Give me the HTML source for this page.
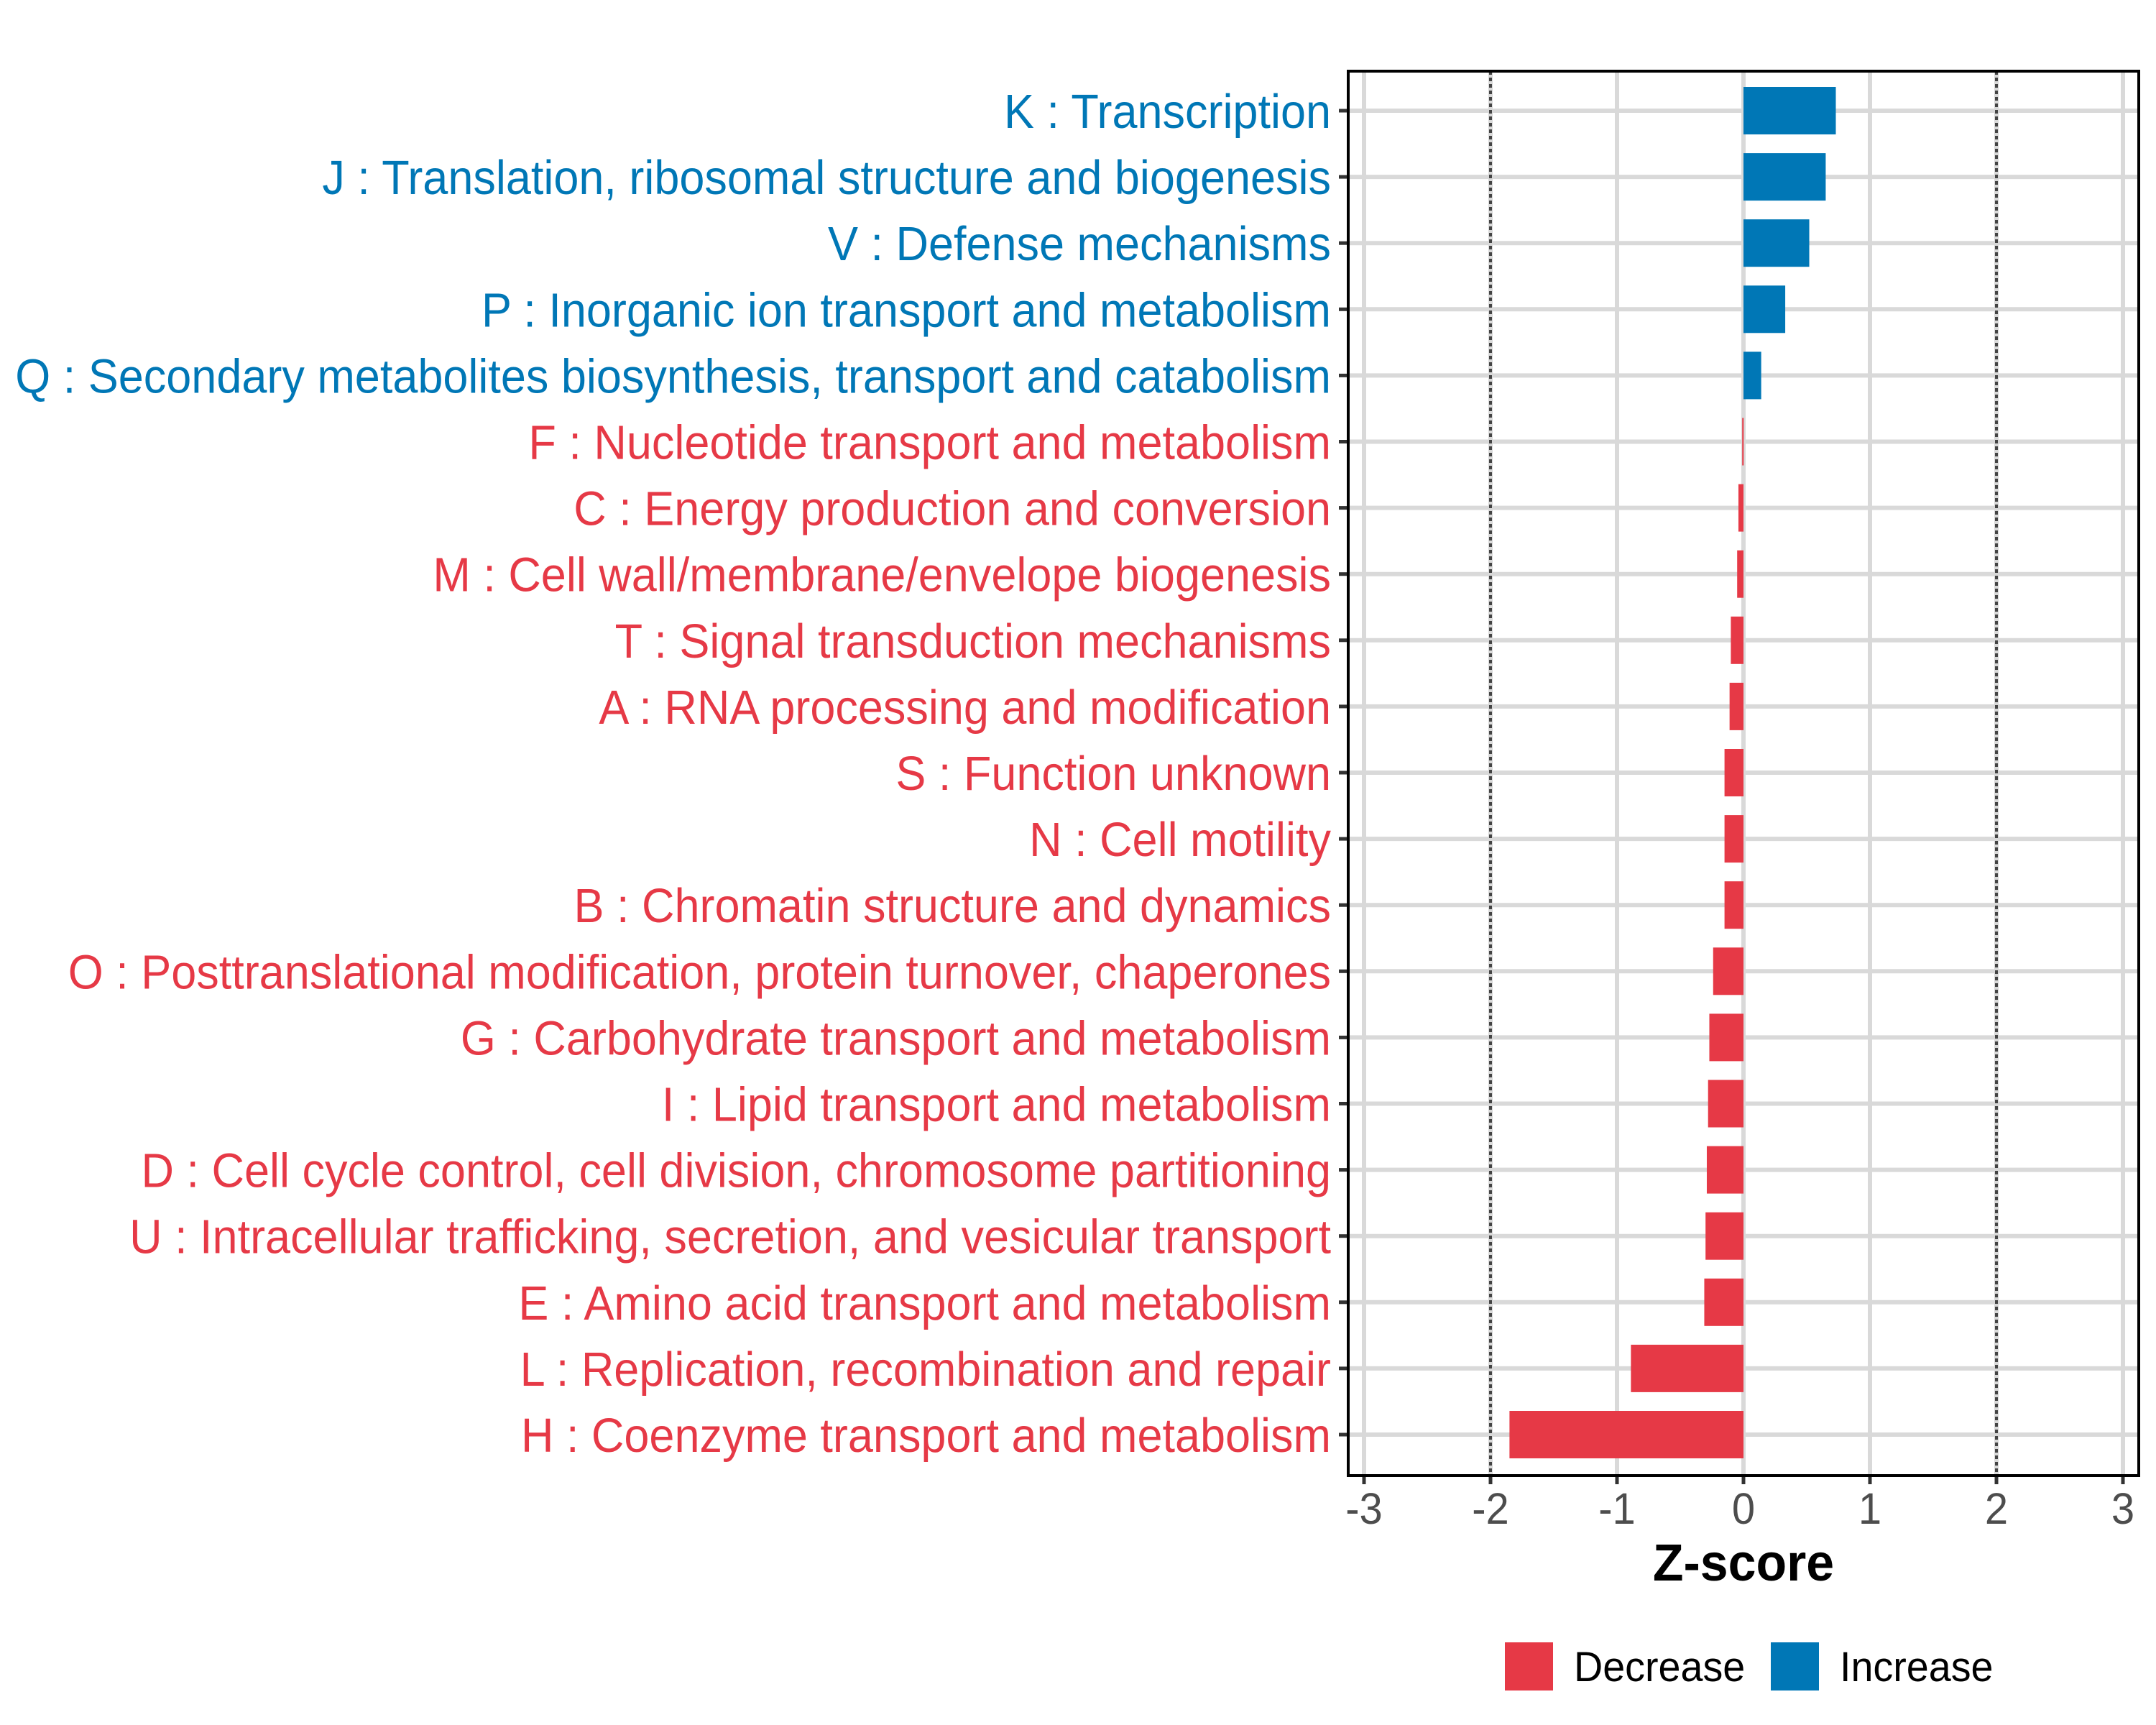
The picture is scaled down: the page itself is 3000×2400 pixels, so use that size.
<!DOCTYPE html>
<html><head><meta charset="utf-8"><style>
html,body{margin:0;padding:0;background:#fff}
svg{display:block}
text{font-family:"Liberation Sans",Arial,sans-serif}
</style></head><body>
<svg id="chart" width="3000" height="2400" viewBox="0 0 3000 2400" xmlns="http://www.w3.org/2000/svg">
<rect width="3000" height="2400" fill="#fff"/>
<g id="grid"></g>
<g id="bars"></g>
<g id="labels"></g>
<g id="xticks"></g>
<rect x="1876" y="99" width="1100" height="1954" fill="none" stroke="#000" stroke-width="4"/>
<text x="2426" y="2199" font-size="72" font-weight="bold" text-anchor="middle" transform="translate(2426,0) scale(0.97,1) translate(-2426,0)">Z-score</text>
<g>
<rect x="2094" y="2285" width="67" height="67" fill="#E63946"/>
<text x="2190" y="2339" font-size="58" transform="translate(2190,0) scale(0.96,1) translate(-2190,0)">Decrease</text>
<rect x="2464" y="2285" width="67" height="67" fill="#0077B6"/>
<text x="2560" y="2339" font-size="58" transform="translate(2560,0) scale(0.96,1) translate(-2560,0)">Increase</text>
</g>
</svg>
<script>
const categories = ["K : Transcription","J : Translation, ribosomal structure and biogenesis","V : Defense mechanisms","P : Inorganic ion transport and metabolism","Q : Secondary metabolites biosynthesis, transport and catabolism","F : Nucleotide transport and metabolism","C : Energy production and conversion","M : Cell wall/membrane/envelope biogenesis","T : Signal transduction mechanisms","A : RNA processing and modification","S : Function unknown","N : Cell motility","B : Chromatin structure and dynamics","O : Posttranslational modification, protein turnover, chaperones","G : Carbohydrate transport and metabolism","I : Lipid transport and metabolism","D : Cell cycle control, cell division, chromosome partitioning","U : Intracellular trafficking, secretion, and vesicular transport","E : Amino acid transport and metabolism","L : Replication, recombination and repair","H : Coenzyme transport and metabolism"];
const zscores = [0.73,0.65,0.52,0.33,0.14,-0.01,-0.04,-0.05,-0.10,-0.11,-0.15,-0.15,-0.15,-0.24,-0.27,-0.28,-0.29,-0.30,-0.31,-0.89,-1.85];
const xTicks = [-3,-2,-1,0,1,2,3];
const xTickLabels = ["-3","-2","-1","0","1","2","3"];
const thresholds = [-2,2];

const NS="http://www.w3.org/2000/svg";
function xs(v){return 2426+v*176;}
function ys(i){return 154+i*92.1;}
function mk(tag,attrs,parent){const e=document.createElementNS(NS,tag);for(const k in attrs)e.setAttribute(k,attrs[k]);parent.appendChild(e);return e;}
const grid=document.getElementById('grid'),bars=document.getElementById('bars'),labels=document.getElementById('labels'),xt=document.getElementById('xticks');
const RED="#E63946",BLUE="#0077B6";
xTicks.forEach((t,i)=>{
  const g=mk('line',{x1:xs(t),x2:xs(t),y1:99,y2:2053,stroke:"#d9d9d9","stroke-width":6},grid);
  
  
  const tk=mk('line',{x1:xs(t),x2:xs(t),y1:2053,y2:2065,stroke:"#333","stroke-width":5},xt);
  
  
  const tl=mk('text',{x:xs(t),y:2120,"font-size":61,fill:"#4d4d4d","text-anchor":"middle",transform:`translate(${xs(t)},0) scale(0.95,1) translate(${-xs(t)},0)`},xt);
  tl.textContent=xTickLabels[i];
  
  
});
categories.forEach((c,i)=>{
  const y=ys(i);
  const g=mk('line',{x1:1876,x2:2976,y1:y,y2:y,stroke:"#d9d9d9","stroke-width":6},grid);
  
  
  const tk=mk('line',{x1:1863,x2:1876,y1:y,y2:y,stroke:"#333","stroke-width":5},xt);
  
  
});
thresholds.forEach(t=>{
  const l=mk('line',{x1:xs(t),x2:xs(t),y1:99,y2:2053,stroke:"#444","stroke-width":4,"stroke-dasharray":"5,4"},grid);
  
  
});
categories.forEach((c,i)=>{
  const v=zscores[i],y=ys(i),col=v>=0?BLUE:RED;
  const x0=Math.min(xs(0),xs(v)),w=Math.max(Math.abs(xs(v)-xs(0)),2);
  const b=mk('rect',{x:x0,y:y-33,width:w,height:66,fill:col},bars);
  
  
  const t=mk('text',{x:0,y:y+24,"font-size":67,fill:col,"text-anchor":"end",transform:"translate(1852,0) scale(0.94,1)"},labels);
  t.textContent=c;
  
  
});
</script>
</body></html>
